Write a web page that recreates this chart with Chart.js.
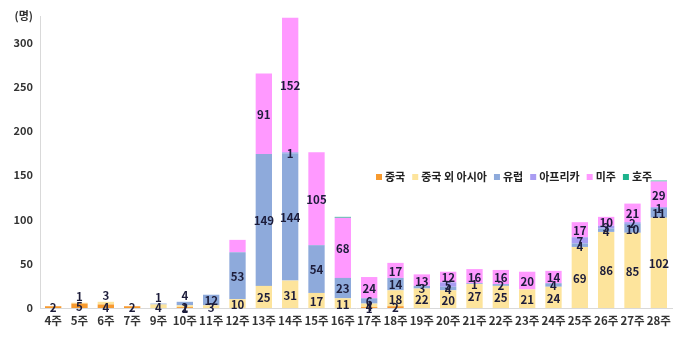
<!DOCTYPE html>
<html><head><meta charset="utf-8">
<script src="https://cdn.jsdelivr.net/npm/chart.js@4"></script>
<style>html,body{margin:0;padding:0;background:#fff}#wrap{width:680px;height:338px}</style>
</head><body><div id="wrap"><canvas id="c" width="680" height="338"></canvas></div>
<script>
const categories = ['4주','5주','6주','7주','9주','10주','11주','12주','13주','14주','15주','16주','17주','18주','19주','20주','21주','22주','23주','24주','25주','26주','27주','28주'];
const seriesNames = ['중국','중국 외 아시아','유럽','아프리카','미주','호주'];
const china     = [2,5,4,2,0,1,0,0,0,0,0,0,1,2,0,0,0,0,0,0,0,0,0,0];
const asiaOther = [0,1,3,0,4,2,3,10,25,31,17,11,4,18,22,20,27,25,21,24,69,86,85,102];
const europe    = [0,0,0,0,1,4,12,53,149,144,54,23,6,14,3,4,1,2,0,4,4,4,10,11];
const africa    = [0,0,0,0,0,0,0,0,0,1,0,0,0,0,0,5,0,0,0,0,7,3,2,1];
const americas  = [0,0,0,0,0,0,0,14,91,152,105,68,24,17,13,12,16,16,20,14,17,10,21,29];
const australia = [0,0,0,0,0,0,0,0,0,0,0,1,0,0,0,0,0,0,0,0,0,0,0,1];
const yTicks = [0,50,100,150,200,250,300];
const unitLabel = '(명)';

const colors = ['#F79A2F','#FDE49C','#8EAADB','#A99CF2','#FF99FF','#1DB38C'];
const seriesData = [china, asiaOther, europe, africa, americas, australia];
const FONT = '"Noto Sans CJK KR", "Noto Sans", sans-serif';

const labelPlugin = {
  id: 'segLabels',
  afterDatasetsDraw(chart) {
    const ctx = chart.ctx;
    ctx.save();
    ctx.font = 'bold 11.5px ' + FONT;
    ctx.fillStyle = '#1c1c3a';
    ctx.textAlign = 'center';
    ctx.textBaseline = 'middle';
    const n = chart.data.labels.length;
    for (let i = 0; i < n; i++) {
      let topDi = -1, total = 0, count = 0;
      for (let di = 0; di < 5; di++) {
        const v = chart.data.datasets[di].data[i];
        if (v) { topDi = di; total += v; count++; }
      }
      for (let di = 0; di < 5; di++) {
        const v = chart.data.datasets[di].data[i];
        if (!v) continue;
        if (di === 4 && i === 7) continue;
        const el = chart.getDatasetMeta(di).data[i];
        let x = el.x, y = (el.y + el.base) / 2 + 1;
        if (total < 10 && count > 1 && di === topDi) y = el.y - 6;
        ctx.fillText(String(v), x, y);
      }
    }
    ctx.restore();
  }
};

const legendPlugin = {
  id: 'customLegend',
  afterDraw(chart) {
    const ctx = chart.ctx;
    ctx.save();
    ctx.font = 'bold 11px ' + FONT;
    ctx.textBaseline = 'middle';
    let x = 376;
    const y = 177;
    chart.data.datasets.forEach((ds) => {
      ctx.fillStyle = ds.backgroundColor;
      ctx.fillRect(x, y - 3, 6, 6);
      x += 9;
      ctx.fillStyle = '#222';
      ctx.fillText(ds.label, x, y);
      x += ctx.measureText(ds.label).width + 7;
    });
    ctx.restore();
  }
};

new Chart(document.getElementById('c'), {
  type: 'bar',
  data: {
    labels: categories,
    datasets: seriesNames.map((n, k) => ({
      label: n,
      data: seriesData[k],
      backgroundColor: colors[k],
      borderWidth: 0,
      barPercentage: 0.62,
      categoryPercentage: 1.0
    }))
  },
  options: {
    responsive: false,
    animation: false,
    layout: { padding: { top: 16, right: 8, left: 0, bottom: 0 } },
    plugins: { legend: { display: false }, tooltip: { enabled: false } },
    scales: {
      x: {
        stacked: true,
        grid: { display: false, drawTicks: false },
        border: { display: true, color: '#d9d9d9', width: 1 },
        ticks: { color: '#333', font: { family: FONT, size: 11.5, weight: 'bold' }, padding: 6, maxRotation: 0, autoSkip: false },
        afterFit(s) { s.height = 30; }
      },
      y: {
        stacked: true,
        min: 0, max: 330,
        afterBuildTicks(s) { s.ticks = yTicks.concat([330]).map(v => ({ value: v })); },
        grid: { display: false, drawTicks: false },
        border: { display: true, color: '#d9d9d9', width: 1 },
        ticks: {
          color: '#333', font: { family: FONT, size: 11, weight: 'bold' }, padding: 7,
          callback: (v) => v === 330 ? unitLabel : v
        },
        afterFit(s) { s.width = 40; }
      }
    }
  },
  plugins: [labelPlugin, legendPlugin]
});
</script>
</body></html>
